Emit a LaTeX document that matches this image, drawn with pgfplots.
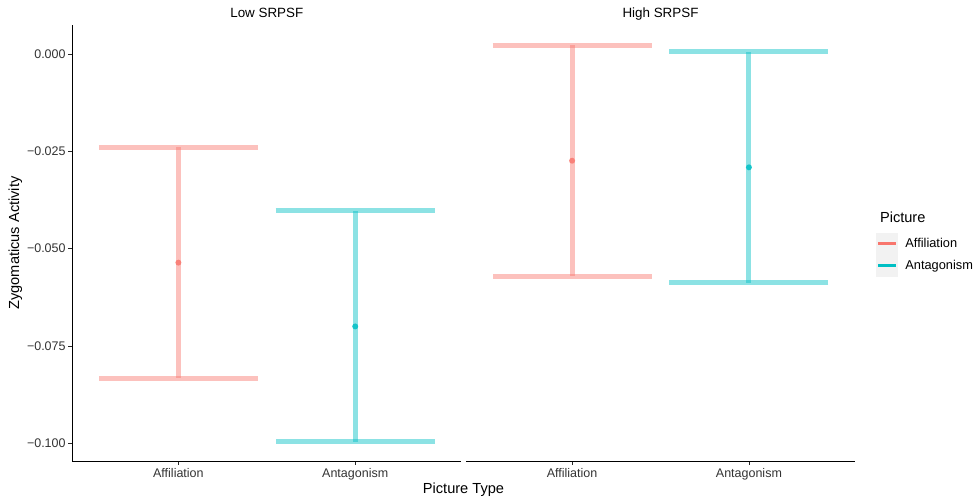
\documentclass[border=0pt]{standalone}
\usepackage{pgfplots}
\pgfplotsset{compat=1.18}
\usepackage{fontspec}
\setmainfont[Ligatures=NoCommon]{Liberation Sans}
\definecolor{cA}{HTML}{F8766D}
\definecolor{cB}{HTML}{00BFC4}
\definecolor{g30}{HTML}{333333}
\newcommand{\ts}{\fontsize{12.5bp}{15bp}\selectfont}
\newcommand{\tstrip}{\fontsize{13.4bp}{16bp}\selectfont}
\newcommand{\tl}{\fontsize{14.6bp}{18bp}\selectfont}
\pgfplotsset{
 facet/.style={
  scale only axis, width=389bp, height=436bp,
  xmin=0.4, xmax=2.6, ymin=-0.1046, ymax=0.0075,
  xtick={1,2}, xticklabels={Affiliation,Antagonism},
  axis x line*=bottom,
  tick align=outside, major tick length=4bp,
  tick style={black!85, line width=0.6bp},
  axis line style={line width=0.8bp, black},
  xticklabel style={font=\ts, text=g30, inner sep=0pt, anchor=north, yshift=-3bp},
  yticklabel style={font=\ts, text=g30, inner sep=0pt, anchor=east, xshift=-2.5bp},
  title style={font=\tstrip, at={(0.5,1)}, anchor=base, yshift=2bp, inner sep=0pt},
  clip=false,
 },
 ebar/.style={only marks, mark=*, mark size=3bp, color=#1,
  mark options={draw opacity=0, fill opacity=0.85},
  error bars/.cd, y dir=both, y explicit, error mark=|,
  error bar style={line width=5bp, #1, opacity=0.45},
  error mark options={line width=5bp, #1, opacity=0.45, mark size=79.5bp}},
 legkey/.style={legend image code/.code={%
   \fill[black!5, draw=none] (0bp,-11bp) rectangle (22bp,11bp);
   \draw[##1, line width=3bp] (2bp,0bp) -- (20bp,0bp);
   \path (29bp,0bp);}},
}
\begin{document}
\begin{tikzpicture}[x=1bp,y=1bp]
\useasboundingbox (0,0) rectangle (979,501);
\begin{axis}[facet, at={(72.3bp,40bp)}, anchor=south west,
  axis y line*=left, title={Low SRPSF},
  ytick={-0.1,-0.075,-0.05,-0.025,0},
  yticklabels={−0.100,−0.075,−0.050,−0.025,0.000}]
\addplot[ebar=cA] coordinates {(1,-0.0536) +- (0,0.0297)};
\addplot[ebar=cB] coordinates {(2,-0.0700) +- (0,0.0297)};
\end{axis}
\begin{axis}[facet, at={(466bp,40bp)}, anchor=south west,
  axis y line=none, title={High SRPSF},
  legend style={at={(rel axis cs:1,0.4725)}, anchor=west, xshift=21bp,
    draw=none, fill=none, inner sep=0pt, row sep=0pt,
    font=\fontsize{12.8bp}{15bp}\selectfont,
    nodes={inner sep=0pt}},
  legend cell align=left]
\addplot[forget plot, ebar=cA] coordinates {(1,-0.0274) +- (0,0.0297)};
\addplot[forget plot, ebar=cB] coordinates {(2,-0.0291) +- (0,0.0297)};
\addlegendimage{legkey, cA}
\addlegendentry{Affiliation}
\addlegendimage{legkey, cB}
\addlegendentry{Antagonism}
\end{axis}
\node[anchor=base, font=\tl] at (463.5,7) {Picture Type};
\node[anchor=base, rotate=90, font=\tl] at (19,258) {Zygomaticus Activity};
\node[anchor=base west, font=\tl] at (876.5,278) {Picture};
\end{tikzpicture}
\end{document}
